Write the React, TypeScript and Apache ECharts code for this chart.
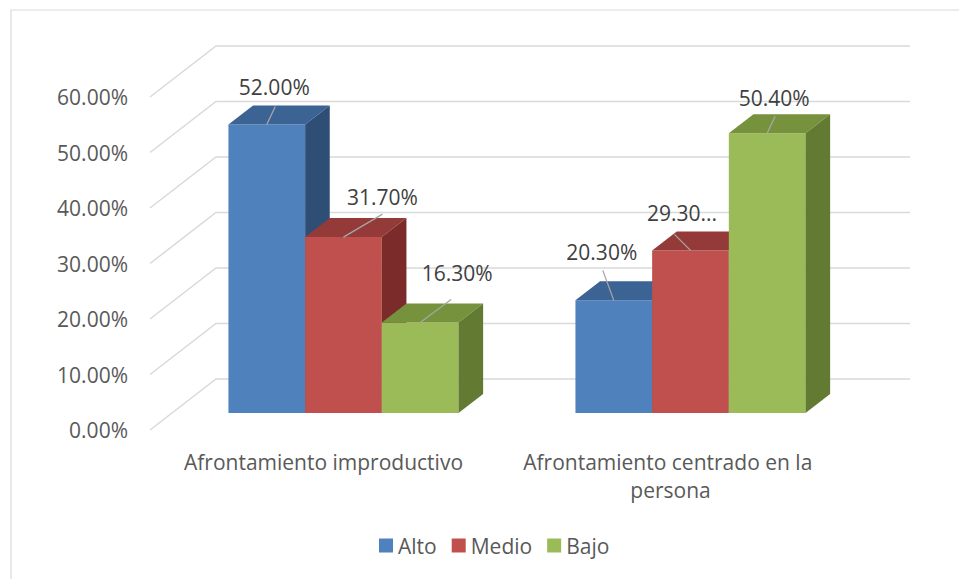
import React, { useEffect, useRef } from 'react';
import * as echarts from 'echarts';

const categories = ['Afrontamiento improductivo', 'Afrontamiento centrado en la persona'];
const seriesNames = ['Alto', 'Medio', 'Bajo'];
const alto = [52.0, 20.3];
const medio = [31.7, 29.3];
const bajo = [16.3, 50.4];
const yTicks = [0, 10, 20, 30, 40, 50, 60];
const truncatedLabel = [[false, false], [false, true], [false, false]];

const FRONT = ['#4f81bd', '#c0504d', '#9bbb59'];
const TOP = ['#3b6394', '#943a38', '#76923c'];
const SIDE = ['#2f4e76', '#7b2c2a', '#637a33'];

// 3D projection of depth (full floor depth), and bar placement inside it
const DEPTH_X = 66;
const DEPTH_Y = -51;
const F1 = 0.333;
const F2 = 0.706;
const BAR_FRAC = 0.221;
const BAR_SHIFT_X = -2;

// label layout relative to the bar's top-front centre: [labelDx, labelDy, leaderEndDx, leaderEndDy]
const labelLayout = [
  [[7.5, -37, 8.5, -18], [-12, -48, -11, -30]],
  [[39, -40, 39, -23], [-8.5, -37, -16, -16]],
  [[37, -50, 31, -23], [7, -35, 8, -17]],
];

const FONT = '"Open Sans", "Noto Sans", sans-serif';
const FS = 21;
const seriesData = [alto, medio, bajo];

function makeBarRender(s: number) {
  return (params: any, api: any) => {
    const c = api.value(0);
    const v = api.value(1);
    const base = api.coord([c, 0]);
    const top = api.coord([c, v]);
    const cw = api.size([1, 0])[0];
    const bw = cw * BAR_FRAC;
    const fx = DEPTH_X * F1 + BAR_SHIFT_X;
    const fy = DEPTH_Y * F1;
    const dx = DEPTH_X * (F2 - F1);
    const dy = DEPTH_Y * (F2 - F1);
    const xl = base[0] + fx - 1.5 * bw + s * bw;
    const xr = xl + bw;
    const yb = base[1] + fy;
    const yt = top[1] + fy;
    const cx = (xl + xr) / 2;
    const lay = labelLayout[s][c];
    let txt = v.toFixed(2) + '%';
    if (truncatedLabel[s][c]) txt = txt.slice(0, 5) + '...';
    return {
      type: 'group',
      children: [
        {
          type: 'rect',
          shape: { x: xl, y: yt, width: bw, height: yb - yt },
          style: { fill: FRONT[s] },
        },
        {
          type: 'polygon',
          shape: { points: [[xl, yt], [xr, yt], [xr + dx, yt + dy], [xl + dx, yt + dy]] },
          style: { fill: TOP[s] },
        },
        {
          type: 'polygon',
          shape: { points: [[xr, yt], [xr + dx, yt + dy], [xr + dx, yb + dy], [xr, yb]] },
          style: { fill: SIDE[s] },
        },
        {
          type: 'line',
          shape: { x1: cx, y1: yt, x2: cx + lay[2], y2: yt + lay[3] },
          style: { stroke: '#a6a6a6', lineWidth: 1.3 },
        },
        {
          type: 'text',
          x: cx + lay[0],
          y: yt + lay[1],
          style: {
            text: txt,
            fill: '#404040',
            fontSize: FS,
            fontFamily: FONT,
            align: 'center',
            verticalAlign: 'middle',
          },
        },
      ],
    };
  };
}

export default function App() {
  const ref = useRef<HTMLDivElement>(null);
  useEffect(() => {
    if (!ref.current) return;
    const chart = echarts.init(ref.current, undefined, { renderer: 'svg' });
    const option: any = {
      animation: false,
      backgroundColor: '#ffffff',
      color: FRONT,
      textStyle: { fontFamily: FONT },
      grid: { left: 150, right: 115, top: 97, bottom: 149 },
      legend: {
        data: seriesNames,
        left: 374,
        top: 530,
        icon: 'rect',
        itemWidth: 14,
        itemHeight: 14,
        itemGap: 15,
        textStyle: { fontSize: FS, color: '#595959', fontFamily: FONT },
      },
      graphic: [
        {
          type: 'rect',
          shape: { x: 11, y: 10, width: 1200, height: 1000 },
          style: { fill: 'none', stroke: '#d9d9d9', lineWidth: 1.2 },
          silent: true,
        },
      ],
      xAxis: {
        type: 'category',
        data: categories,
        axisLine: { show: false },
        axisTick: { show: false },
        splitLine: { show: false },
        axisLabel: {
          interval: 0,
          margin: 18,
          fontSize: FS,
          color: '#595959',
          fontFamily: FONT,
          lineHeight: 28,
          width: 320,
          overflow: 'break',
        },
      },
      yAxis: {
        type: 'value',
        min: 0,
        max: 60,
        interval: 10,
        axisLine: { show: false },
        axisTick: { show: false },
        splitLine: { show: false },
        axisLabel: {
          margin: 22,
          fontSize: FS,
          color: '#595959',
          fontFamily: FONT,
          formatter: (v: number) => v.toFixed(2) + '%',
        },
      },
      series: [
        {
          type: 'custom',
          name: 'walls',
          z: 1,
          silent: true,
          clip: false,
          data: yTicks.map((t) => [0, t]),
          renderItem: (params: any, api: any) => {
            const cs = params.coordSys;
            const y = api.coord([0, api.value(1)])[1];
            return {
              type: 'polyline',
              shape: {
                points: [
                  [cs.x, y],
                  [cs.x + DEPTH_X, y + DEPTH_Y],
                  [cs.x + cs.width + DEPTH_X, y + DEPTH_Y],
                ],
              },
              style: { stroke: '#d9d9d9', lineWidth: 1.5, fill: null },
            };
          },
        },
        ...seriesNames.map((name, s) => ({
          type: 'custom',
          name,
          z: 2,
          clip: false,
          itemStyle: { color: FRONT[s] },
          data: seriesData[s].map((v, c) => [c, v]),
          renderItem: makeBarRender(s),
        })),
      ],
    };
    chart.setOption(option);
    return () => chart.dispose();
  }, []);
  return (
    <div
      ref={ref}
      style={{ position: 'fixed', left: 0, top: 0, width: 959, height: 579 }}
    />
  );
}
